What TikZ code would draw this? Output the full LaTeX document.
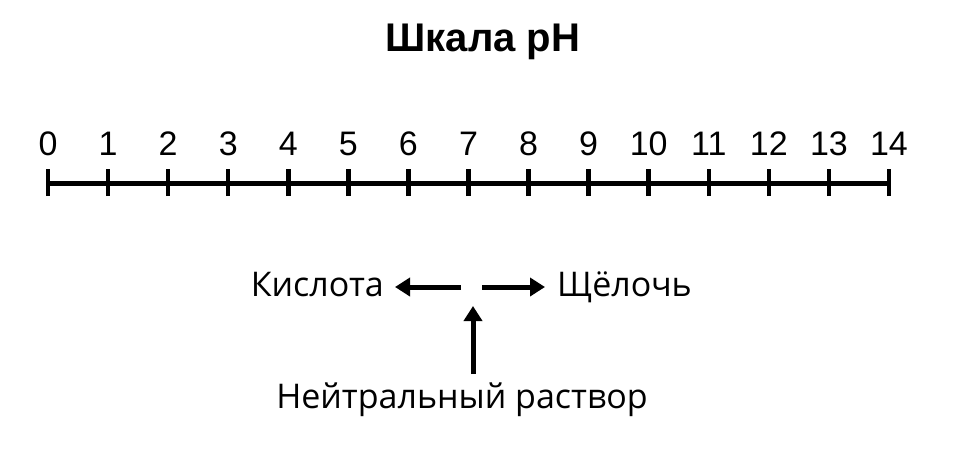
\documentclass[tikz,border=0pt]{standalone}
\usepackage{fontspec}
\setmainfont{Liberation Sans}
\newfontfamily\labfont{Open Sans}
\usetikzlibrary{arrows.meta}
\begin{document}
\begin{tikzpicture}[x=1pt,y=-1pt,
  axisline/.style={line width=5pt},
  tickline/.style={line width=4.5pt},
  numlabel/.style={font=\fontsize{34}{34}\selectfont, anchor=base, inner sep=0pt},
  lab/.style={font=\labfont\fontsize{34}{34}\selectfont, inner sep=0pt, anchor=base},
  arr/.style={line width=5pt, -{Triangle[length=15pt,width=18pt]}}]
\useasboundingbox (0,0) rectangle (978,456);
\fill[white] (0,0) rectangle (978,456);
\node[font=\bfseries\fontsize{40}{40}\selectfont, inner sep=0pt, anchor=base] (title) at (483,51) {Шкала pH};
\coordinate (a0) at (48,183);
\coordinate (a14) at (889,183);
\draw[axisline] (a0) -- (a14);
\foreach \i in {0,...,14} {
  \coordinate (t\i) at ({48+\i*60.07},183);
  \draw[tickline] ([yshift=-13]t\i) -- ([yshift=14]t\i);
  \node[numlabel] (n\i) at ({48+\i*60.07},155) {\i};
}
\node[lab, anchor=base east] (acid) at (384,296) {Кислота};
\node[lab, anchor=base west] (alk) at (557,296) {Щёлочь};
\node[lab] (neutral) at (462,408) {Нейтральный раствор};
\coordinate (cl) at (461,287);
\coordinate (cr) at (482,287);
\coordinate (cu) at (473,306);
\draw[arr, shorten >=11pt] (cl) -- (acid.east |- cl);
\draw[arr, shorten >=12pt] (cr) -- (alk.west |- cr);
\draw[arr] (neutral.north -| cu) ++(0,-8) -- (cu);
\end{tikzpicture}
\end{document}
